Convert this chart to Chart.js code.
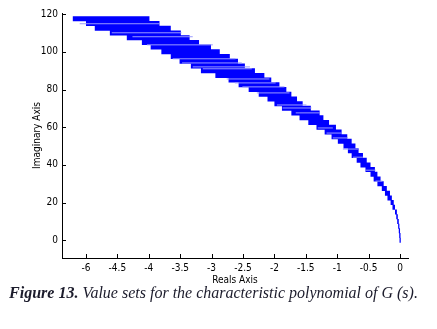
<!DOCTYPE html>
<html>
<head>
<meta charset="utf-8">
<script src="https://cdn.jsdelivr.net/npm/chart.js@4/dist/chart.umd.min.js"></script>
<style>
    body { margin: 0; background: #fff; }
    .wrap { position: relative; width: 437px; height: 329px; }
    .caption {
        position: absolute; left: -5px; top: 284px; width: 437px;
        text-align: center; font: italic 16px/18px 'Liberation Serif', 'Times New Roman', serif;
        color: #1c1c2c; white-space: nowrap;
    }
    .caption b { font-weight: bold; }
</style>
</head>
<body>
<div class="wrap">
    <canvas id="valueSetChart" width="437" height="289"></canvas>
    <div class="caption"><b>Figure 13.</b> Value sets for the characteristic polynomial of G (s).</div>
</div>
<script>
// tick positions and labels as printed
const tickValuesX = [-5, -4.5, -4, -3.5, -3, -2.5, -2, -1.5, -1, -0.5, 0];
const tickLabelsX = ['-6', '-4.5', '-4', '-3.5', '-3', '-2.5', '-2', '-1.5', '-1', '-0.5', '0'];
const tickValuesY = [0, 20, 40, 60, 80, 100, 120];

// value set: one horizontal segment per imaginary level, from real left to real right
const bandImag = [117.5, 115, 112.5, 110, 107.5, 105, 102.5, 100, 97.5, 95, 92.5, 90, 87.5, 85, 82.5, 80,
    77.5, 75, 72.5, 70, 67.5, 65, 62.5, 60, 57.5, 55, 52.5, 50, 47.5, 45, 42.5, 40, 37.5, 35, 32.5, 30,
    27.5, 25, 22.5, 20, 17.5, 15, 12.5, 10, 7.5, 5, 2.5, 0];
const bandLeft = [-5.21, -5.00, -4.86, -4.62, -4.35, -4.11, -3.97, -3.80, -3.65, -3.51, -3.33, -3.17, -2.94, -2.73, -2.57, -2.41,
    -2.25, -2.11, -2.00, -1.88, -1.73, -1.60, -1.46, -1.33, -1.20, -1.09, -0.99, -0.90, -0.83, -0.77, -0.69, -0.63, -0.55, -0.47, -0.42, -0.36,
    -0.29, -0.24, -0.20, -0.15, -0.12, -0.08, -0.06, -0.045, -0.03, -0.02, -0.013, -0.008];
const bandRight = [-3.99, -3.83, -3.65, -3.49, -3.35, -3.20, -3.01, -2.87, -2.71, -2.58, -2.47, -2.31, -2.16, -2.05, -1.92, -1.81,
    -1.73, -1.64, -1.55, -1.42, -1.28, -1.22, -1.13, -1.02, -0.93, -0.84, -0.77, -0.71, -0.66, -0.59, -0.53, -0.47, -0.40, -0.36, -0.31, -0.26,
    -0.21, -0.16, -0.13, -0.10, -0.08, -0.05, -0.035, -0.02, -0.01, 0.0, 0.008, 0.012];

// thin light gaps between the segments
const stripeImag = [114.9, 110.1, 108, 103.7, 96.3, 94.1, 92, 91, 85.6, 83.5, 81.4, 78.2, 71.8, 70.2, 67.6, 59.6, 56.9, 54.3, 48.4, 44.1, 37.2, 31.4];
const stripeLeft = [-5.10, -4.59, -4.26, -4.03, -3.62, -3.47, -3.30, -3.14, -2.76, -2.63, -2.51, -2.28, -1.96, -1.87, -1.66, -1.31, -1.17, -1.07, -0.91, -0.75, -0.55, -0.39];
const stripeRight = [-3.83, -3.48, -3.30, -2.98, -2.62, -2.52, -2.39, -2.36, -2.08, -1.98, -1.84, -1.76, -1.49, -1.41, -1.28, -1.07, -0.93, -0.83, -0.67, -0.59, -0.39, -0.28];

function segments(imag, left, right) {
    const pts = [];
    imag.forEach((w, i) => {
        pts.push({ x: left[i], y: w }, { x: right[i], y: w }, { x: right[i], y: null });
    });
    return pts;
}

const axisFont = { family: "'Liberation Sans Narrow', 'DejaVu Sans Condensed', Arial, sans-serif", size: 10 };

// inward tick marks like the original figure
const inwardTicks = {
    id: 'inwardTicks',
    afterDraw(chart) {
        const { ctx, chartArea, scales } = chart;
        ctx.save();
        ctx.strokeStyle = '#000';
        ctx.lineWidth = 1;
        ctx.beginPath();
        tickValuesX.forEach(v => {
            const px = Math.round(scales.x.getPixelForValue(v)) + 0.5;
            ctx.moveTo(px, chartArea.bottom);
            ctx.lineTo(px, chartArea.bottom - 4);
        });
        tickValuesY.forEach(v => {
            const py = Math.round(scales.y.getPixelForValue(v)) + 0.5;
            ctx.moveTo(chartArea.left, py);
            ctx.lineTo(chartArea.left + 4, py);
        });
        ctx.stroke();
        ctx.restore();
    }
};

new Chart(document.getElementById('valueSetChart').getContext('2d'), {
    type: 'scatter',
    data: {
        datasets: [
            {
                data: segments(stripeImag, stripeLeft, stripeRight),
                showLine: true,
                spanGaps: false,
                borderColor: '#9a9aff',
                borderWidth: 1,
                borderCapStyle: 'butt',
                pointRadius: 0
            },
            {
                data: segments(bandImag, bandLeft, bandRight),
                showLine: true,
                spanGaps: false,
                borderColor: '#0000ff',
                borderWidth: 5,
                borderCapStyle: 'butt',
                pointRadius: 0
            }
        ]
    },
    options: {
        responsive: false,
        animation: false,
        layout: { padding: { top: 13, right: 29, left: 0, bottom: 0 } },
        plugins: {
            legend: { display: false },
            tooltip: { enabled: false }
        },
        scales: {
            x: {
                type: 'linear',
                min: -5.382,
                max: 0.127,
                grid: { display: false, drawTicks: false },
                border: { display: true, color: '#000', width: 1 },
                afterBuildTicks: scale => { scale.ticks = tickValuesX.map(v => ({ value: v })); },
                afterFit: scale => { scale.height = 31; },
                ticks: {
                    color: '#000',
                    font: axisFont,
                    padding: 4,
                    maxRotation: 0,
                    autoSkip: false,
                    callback: (value) => tickLabelsX[tickValuesX.indexOf(value)]
                },
                title: {
                    display: true,
                    text: 'Reals Axis',
                    color: '#000',
                    font: axisFont,
                    padding: { top: 0, bottom: 3 }
                }
            },
            y: {
                type: 'linear',
                min: -9.4,
                max: 120.6,
                grid: { display: false, drawTicks: false },
                border: { display: true, color: '#000', width: 1 },
                afterBuildTicks: scale => { scale.ticks = tickValuesY.map(v => ({ value: v })); },
                afterFit: scale => { scale.width = 62; },
                ticks: {
                    color: '#000',
                    font: axisFont,
                    padding: 4,
                    autoSkip: false
                },
                title: {
                    display: true,
                    text: 'Imaginary Axis',
                    color: '#000',
                    font: axisFont,
                    padding: { top: 31, bottom: 0 }
                }
            }
        }
    },
    plugins: [inwardTicks]
});
</script>
</body>
</html>
